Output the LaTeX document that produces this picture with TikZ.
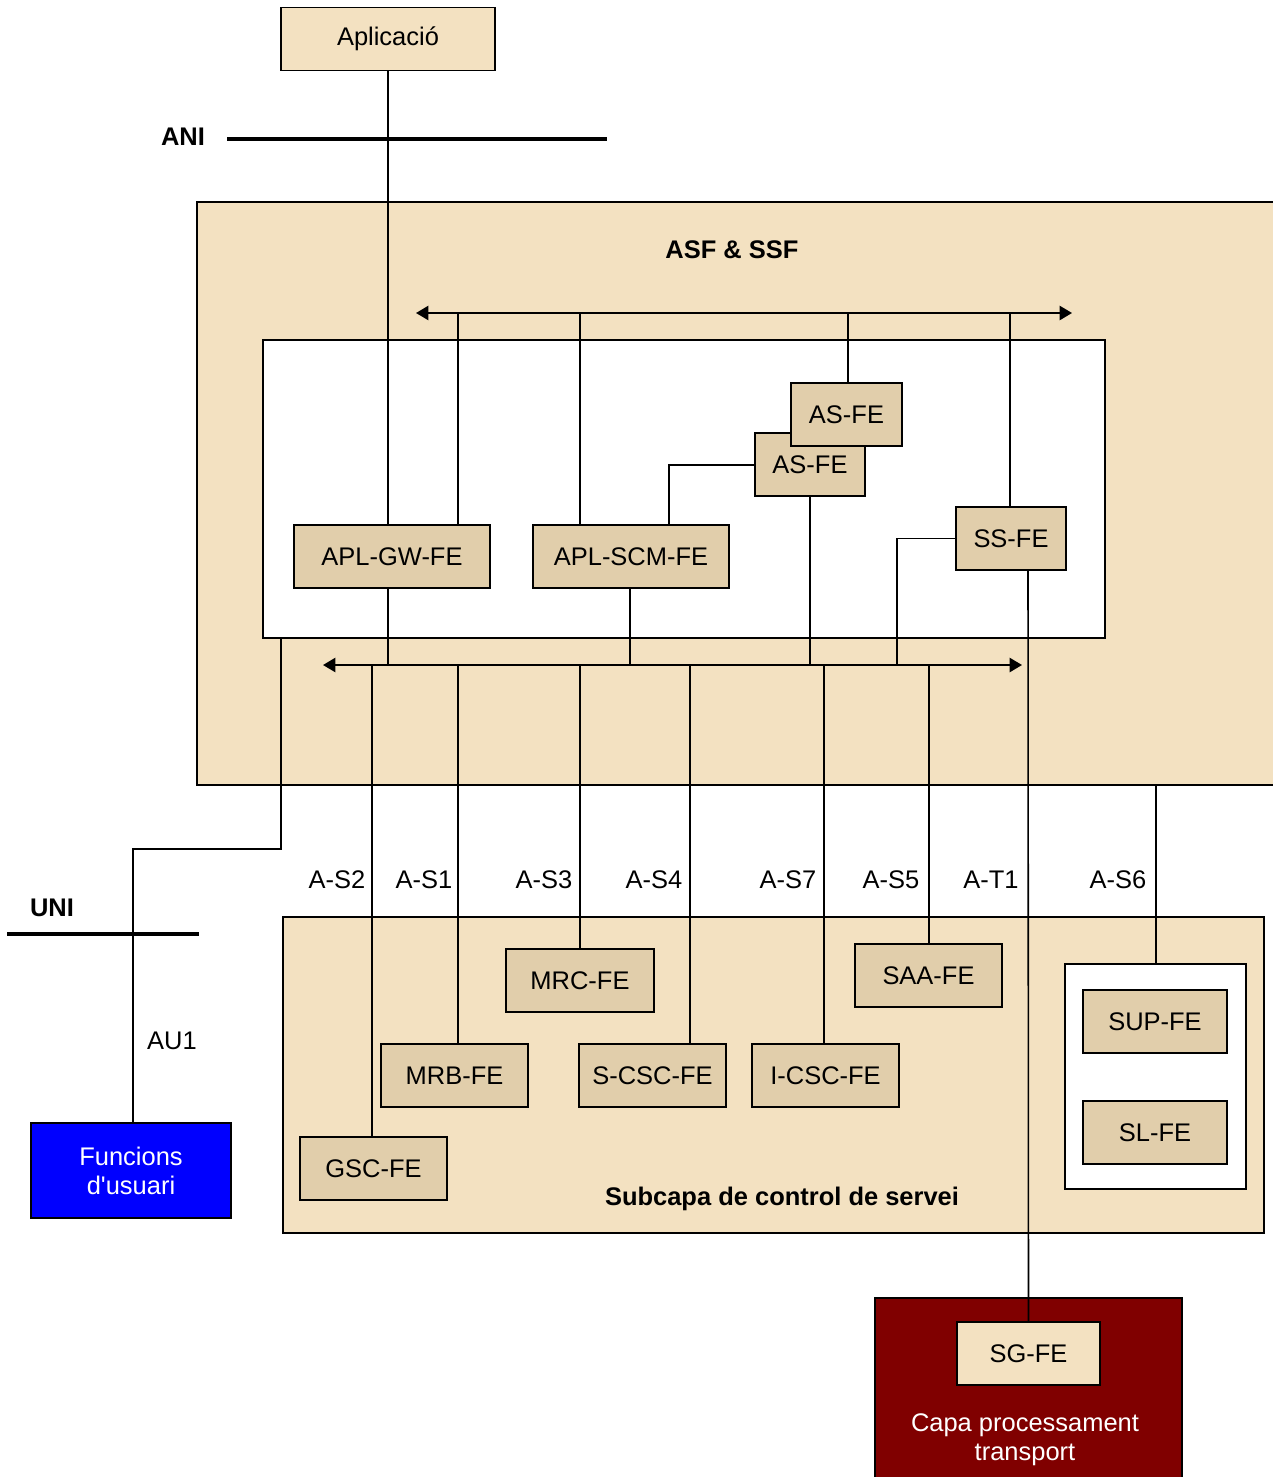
\documentclass[tikz,border=0pt]{standalone}
\usepackage{fontspec}
\setmainfont{Liberation Sans}
\usetikzlibrary{arrows.meta}
\definecolor{bgC}{HTML}{F3E1C1}
\definecolor{feC}{HTML}{E1CEAB}
\definecolor{redC}{HTML}{800000}
\def\pu{0.02cm}
\tikzset{
  fe/.style={draw, fill=feC, line width=1.1pt, inner sep=0pt, minimum height=63*\pu, font=\fontsize{14.5}{17}\selectfont},
  lightbox/.style={draw, fill=bgC, line width=1.1pt, inner sep=0pt, minimum height=63*\pu, font=\fontsize{14.5}{17}\selectfont},
  container/.style={draw, line width=1.1pt},
  conn/.style={line width=0.9pt},
  bus/.style={line width=1.2pt, {Triangle[length=7pt,width=8pt]}-{Triangle[length=7pt,width=8pt]}},
  lbl/.style={font=\fontsize{14.5}{17}\selectfont, inner sep=0pt},
  blbl/.style={font=\fontsize{14.5}{17}\selectfont\bfseries, inner sep=0pt},
  iface/.style={line width=1.8pt}
}
\begin{document}
\begin{tikzpicture}[x=0.02cm,y=-0.02cm]
\useasboundingbox (0,0) rectangle (1272,1477);
% containers
\draw[container, fill=bgC] (197,202) rectangle (1300,785);
\draw[container, fill=white] (263,340) rectangle (1105,638);
\draw[container, fill=bgC] (283,917) rectangle (1264,1233);
\draw[container, fill=white] (1065,964) rectangle (1246,1189);
\draw[container, fill=redC] (875,1298) rectangle (1182,1500);

% labels
\node[blbl] (lasf) at (732,250) {ASF \& SSF};
\node[blbl] (lani) at (183,137) {ANI};
\node[blbl] (luni) at (52,908) {UNI};
\node[blbl] (lsub) at (782,1199) {Subcapa de control de servei};
\node[lbl] (lau1) at (172,1041) {AU1};
\node[lbl] (l2) at (337,880) {A-S2};
\node[lbl] (l1) at (424,880) {A-S1};
\node[lbl] (l3) at (544,880) {A-S3};
\node[lbl] (l4) at (654,880) {A-S4};
\node[lbl] (l7) at (788,880) {A-S7};
\node[lbl] (l5) at (891,880) {A-S5};
\node[lbl] (lt1) at (991,880) {A-T1};
\node[lbl] (l6) at (1118,880) {A-S6};
\node[lbl, text=white, align=center, font=\fontsize{14.5}{16.5}\selectfont] (lcap) at (1025,1440) {Capa processament\\transport};

% interface lines
\coordinate (aniL) at (227,139);
\coordinate (aniR) at (607,139);
\draw[iface] (aniL) -- (aniR);
\coordinate (uniL) at (7,934);
\coordinate (uniR) at (199,934);
\draw[iface] (uniL) -- (uniR);

% nodes
\node[lightbox, minimum width=214*\pu] (app) at (388,39) {Aplicació};
\node[fe, minimum width=196*\pu] (gw) at (392,556.5) {APL-GW-FE};
\node[fe, minimum width=196*\pu] (scm) at (631,556.5) {APL-SCM-FE};
\node[fe, minimum width=110*\pu] (ss) at (1011,538.5) {SS-FE};
\node[fe, minimum width=148*\pu] (mrc) at (580,980.5) {MRC-FE};
\node[fe, minimum width=147*\pu] (saa) at (928.5,975.5) {SAA-FE};
\node[fe, minimum width=147*\pu] (mrb) at (454.5,1075.5) {MRB-FE};
\node[fe, minimum width=147*\pu] (scsc) at (652.5,1075.5) {S-CSC-FE};
\node[fe, minimum width=147*\pu] (icsc) at (825.5,1075.5) {I-CSC-FE};
\node[fe, minimum width=147*\pu] (gsc) at (373.5,1168.5) {GSC-FE};
\node[fe, minimum width=144*\pu] (sup) at (1155,1021.5) {SUP-FE};
\node[fe, minimum width=144*\pu] (sl) at (1155,1132.5) {SL-FE};
\node[lightbox, minimum width=143*\pu] (sg) at (1028.5,1353.5) {SG-FE};
\node[draw, fill=blue, line width=1.1pt, inner sep=0pt, minimum width=200*\pu, minimum height=95*\pu, text=white, align=center, font=\fontsize{14.5}{16.5}\selectfont] (fun) at (131,1170.5) {Funcions\\d\textquotesingle usuari};

% buses
\coordinate (tbL) at (416,313);
\coordinate (tbR) at (1072,313);
\coordinate (bbL) at (323,665);
\coordinate (bbR) at (1022,665);

% connectors (drawn before AS-FE boxes)
\draw[conn] (app.south -| 388,0) -- (388,525);
\draw[conn] (tbL -| 458,0) -- (458,525);
\draw[conn] (tbL -| 580,0) -- (580,525);
\draw[conn] (tbL -| 848,0) -- (848,383);
\draw[conn] (tbL -| 1010,0) -- (ss.north -| 1010,0);
\draw[conn] (755,465) -- (669,465) -- (669,525);
\draw[conn] (810,496) -- (bbL -| 810,0);
\draw[conn] (ss.west) -- (897,538.5) -- (bbL -| 897,0);
\draw[conn] (1028,570) -- (sg.north);
\draw[conn] (gw.south -| 388,0) -- (bbL -| 388,0);
\draw[conn] (scm.south -| 630,0) -- (bbL -| 630,0);
\draw[conn] (bbL -| 372,0) -- (gsc.north -| 372,0);
\draw[conn] (bbL -| 458,0) -- (mrb.north -| 458,0);
\draw[conn] (bbL -| 580,0) -- (mrc.north);
\draw[conn] (bbL -| 690,0) -- (scsc.north -| 690,0);
\draw[conn] (bbL -| 824,0) -- (icsc.north -| 824,0);
\draw[conn] (bbL -| 929,0) -- (saa.north -| 929,0);
\draw[conn] (1156,785) -- (1156,964);
\draw[conn] (281,638) -- (281,849) -- (133,849) -- (fun.north -| 133,0);

\draw[bus] (tbL) -- (tbR);
\draw[bus] (bbL) -- (bbR);

\node[fe, minimum width=110*\pu] (asb) at (810,464.5) {AS-FE};
\node[fe, minimum width=111*\pu] (asf) at (846.5,414.5) {AS-FE};
\end{tikzpicture}
\end{document}
